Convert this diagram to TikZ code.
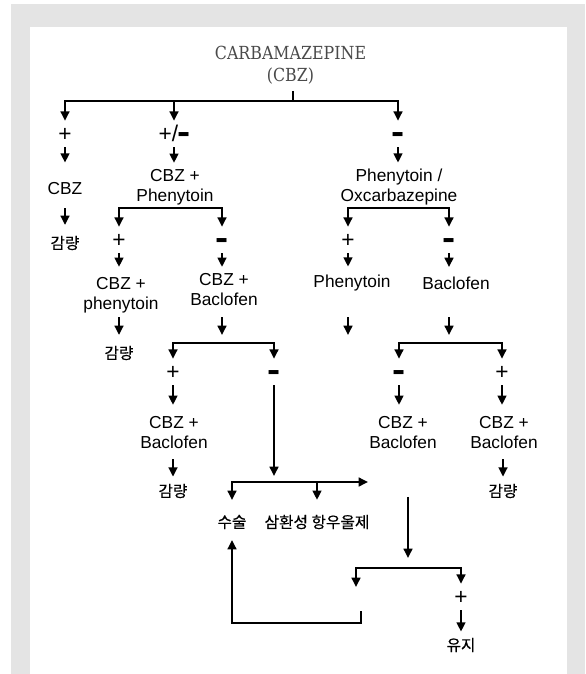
\documentclass[tikz,border=0pt]{standalone}
\usepackage{fontspec}
\usepackage{graphicx}
\usetikzlibrary{arrows.meta}
\setmainfont{Liberation Sans}
\newfontfamily\korfont{Noto Sans CJK KR}[FakeBold=0.6]
\newfontfamily\titlefont{DejaVu Serif}[FakeStretch=0.88]
\definecolor{FrameGray}{HTML}{E4E4E4}
\definecolor{TitleGray}{HTML}{4A4A4A}
\newcommand\mns{\raisebox{-0.14em}{\scalebox{0.88}[1.8]{\bfseries\char"2013}}}
\tikzset{
  lbl/.style={font=\fontsize{13}{15}\selectfont, align=center, inner sep=0pt},
  sgn/.style={font=\fontsize{17}{19}\selectfont, inner xsep=1pt, inner ysep=3.8pt, text height=11.9pt, text depth=0pt},
  kor/.style={font=\korfont\fontsize{11.8}{14}\selectfont, inner sep=0pt},
  ln/.style={line width=2pt},
  arr/.style={ln, -{Triangle[length=7pt,width=6.5pt]}},
}
\begin{document}
\begin{tikzpicture}[x=0.75pt,y=-0.75pt]
\path[use as bounding box] (0,0) rectangle (585,674);
\fill[FrameGray] (11,4) rectangle (585,674);
\fill[white] (30,27) rectangle (567,674);

\node[font=\titlefont\fontsize{13.5}{16.5}\selectfont, text=TitleGray, align=center, inner sep=0pt] (title) at (290.5,65) {CARBAMAZEPINE\\(CBZ)};
\coordinate (b1) at (293,101);
\draw[ln, shorten <=4.9pt] (b1 |- title.south) -- (b1);

\node[sgn] (s1) at (65,134) {+};
\node[sgn] (s2) at (174,134) {+/\mns};
\node[sgn] (s3) at (398,134) {\mns};
\draw[arr] (b1) -| (s1);
\draw[arr] (b1) -| (s3);
\draw[arr] (s2 |- b1) -- (s2);

\node[lbl] (n1) at (65,189) {CBZ};
\node[lbl] (n2) at (175,187) {CBZ +\\Phenytoin};
\node[lbl] (n3) at (399,187) {Phenytoin /\\Oxcarbazepine};
\draw[arr, shorten >=15pt] (s1) -- (n1);
\draw[arr, shorten >=4.5pt] (s2) -- (s2 |- n2.north);
\draw[arr, shorten >=4.5pt] (s3) -- (s3 |- n3.north);

\coordinate (b2) at (170,208);
\coordinate (b3) at (398,208);
\node[sgn] (s4) at (119,240) {+};
\node[sgn] (s5) at (222,240) {\mns};
\node[sgn] (s6) at (348,240) {+};
\node[sgn] (s7) at (449,240) {\mns};
\draw[arr] (b2) -| (s4);
\draw[arr] (b2) -| (s5);
\draw[arr] (b3) -| (s6);
\draw[arr] (b3) -| (s7);
\node[kor] (k1) at (65,243) {감량};
\draw[arr, shorten <=9.5pt, shorten >=8pt] (n1) -- (k1);

\node[lbl] (n4) at (121,295) {CBZ +\\phenytoin};
\node[lbl] (n5) at (224,290) {CBZ +\\Baclofen};
\node[lbl] (n6) at (352,283) {Phenytoin};
\node[lbl] (n7) at (456,283) {Baclofen};
\draw[arr, shorten >=7.5pt] (s4) -- (s4 |- n4.north);
\draw[arr, shorten >=5pt] (s5) -- (s5 |- n5.north);
\draw[arr, shorten >=6pt] (s6) -- (s6 |- n6.north);
\draw[arr, shorten >=7pt] (s7) -- (s7 |- n7.north);

\node[kor] (k2) at (119,353) {감량};
\coordinate (b4) at (222,343);
\coordinate (b5) at (449,343);
\coordinate (e6) at (348,335);
\draw[arr, shorten <=3pt, shorten >=8pt] (k2 |- n4.south) -- (k2);
\draw[arr, shorten <=8pt, shorten >=6pt] (b4 |- n5.south) -- (b4);
\draw[arr, shorten <=19.4pt] (e6 |- n6.south) -- (e6);
\draw[arr, shorten <=20.6pt, shorten >=6pt] (b5 |- n7.south) -- (b5);

\node[sgn] (s8) at (173,372) {+};
\node[sgn] (s9) at (274,372) {\mns};
\node[sgn] (s10) at (399,372) {\mns};
\node[sgn] (s11) at (502,372) {+};
\draw[arr] (b4) -| (s8);
\draw[arr] (b4) -| (s9);
\draw[arr] (b5) -| (s10);
\draw[arr] (b5) -| (s11);

\node[lbl] (n8) at (174,432.5) {CBZ +\\Baclofen};
\node[lbl] (n10) at (403,432.5) {CBZ +\\Baclofen};
\node[lbl] (n11) at (504,432.5) {CBZ +\\Baclofen};
\draw[arr, shorten >=8.4pt] (s8) -- (s8 |- n8.north);
\draw[arr, shorten >=8.4pt] (s10) -- (s10 |- n10.north);
\draw[arr, shorten >=8.4pt] (s11) -- (s11 |- n11.north);

\node[kor] (k3) at (173,491) {감량};
\node[kor] (k4) at (503,491) {감량};
\draw[arr, shorten <=7.9pt, shorten >=5.2pt] (k3 |- n8.south) -- (k3);
\draw[arr, shorten <=7.9pt, shorten >=5.2pt] (k4 |- n11.south) -- (k4);

\coordinate (b6) at (274,482);
\coordinate (e7) at (368,482);
\draw[arr, shorten >=4.5pt] (s9) -- (b6);
\node[kor] (k5) at (232,522) {수술};
\node[kor] (k6) at (317,522) {삼환성 항우울제};
\draw[arr, shorten >=11pt] (b6) -| (k5);
\draw[arr] (b6) -- (e7);
\draw[arr, shorten >=11pt] (k6 |- b6) -- (k6);

\coordinate (b7) at (408,568);
\coordinate (e8) at (356,587);
\draw[arr, shorten <=35.9pt, shorten >=7.5pt] (n10.south -| b7) -- (b7);
\node[sgn] (s12) at (461,597) {+};
\draw[arr] (b7) -| (e8);
\draw[arr] (b7) -| (s12);
\node[kor] (k7) at (461,645) {유지};
\draw[arr, shorten >=4.5pt] (s12) -- (k7);

\coordinate (r1) at (361,611);
\coordinate (r2) at (361,623);
\draw[arr, shorten >=8pt] (r1) -- (r2) -| (k5);
\end{tikzpicture}
\end{document}
